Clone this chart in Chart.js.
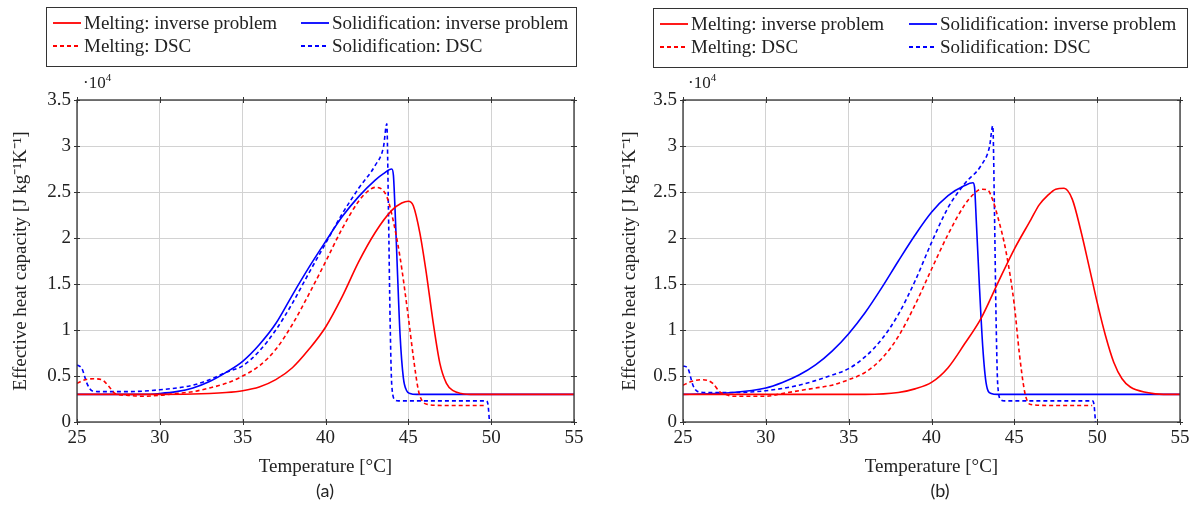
<!DOCTYPE html>
<html>
<head>
<meta charset="utf-8">
<script src="https://cdn.jsdelivr.net/npm/chart.js@4.4.1/dist/chart.umd.min.js"></script>
<style>
  html, body { margin: 0; padding: 0; background: #fff; }
  body { width: 1196px; height: 506px; position: relative; overflow: hidden; font-family: 'Liberation Serif', 'Times New Roman', serif; color: #222; }
  .panel { position: absolute; top: 0; height: 506px; }
  .legend { position: absolute; border: 1px solid #333; box-sizing: border-box; font-size: 19px; padding-top: 3px; }
  .legend .row { display: flex; height: 23px; align-items: center; white-space: nowrap; }
  .legend .item { display: flex; align-items: center; }
  .legend svg { margin-right: 3px; }
  .mult { position: absolute; font-size: 17px; }
  .mult sup { font-size: 11px; }
  .caption { position: absolute; top: 479px; font-family: Lato, 'Open Sans', sans-serif; font-size: 18px; transform: translateX(-50%); }
</style>
</head>
<body>
<div class="panel" style="left:0;width:598px"><canvas id="chartA"></canvas></div>
<div class="panel" style="left:600px;width:596px"><canvas id="chartB"></canvas></div>

<div class="legend" id="legendA" style="left:46px;top:7px;width:531px;height:60px"></div>
<div class="legend" id="legendB" style="left:653px;top:8px;width:535px;height:60px"></div>

<div class="mult" style="left:83px;top:71px">·10<sup>4</sup></div>
<div class="mult" style="left:688px;top:71px">·10<sup>4</sup></div>

<div class="caption" style="left:325px">(a)</div>
<div class="caption" style="left:940px">(b)</div>

<script>
// ---- axis ticks ----
const xTicks = [25, 30, 35, 40, 45, 50, 55];
const yTicks = [0, 0.5, 1, 1.5, 2, 2.5, 3, 3.5];
const yTickLabels = ['0', '0.5', '1', '1.5', '2', '2.5', '3', '3.5'];

const seriesNames = ['Melting: inverse problem', 'Solidification: inverse problem', 'Melting: DSC', 'Solidification: DSC'];

// ---- panel (a) : values in 10^4 J kg-1 K-1 ----
const meltInvA_T = [25, 30, 33, 34, 35, 36, 37, 38, 39, 40, 41, 42, 43, 44, 44.6, 45, 45.3, 45.7, 46.1, 46.5, 46.9, 47.3, 47.7, 48.2, 49, 55];
const meltInvA_c = [0.30, 0.30, 0.31, 0.32, 0.34, 0.38, 0.46, 0.59, 0.79, 1.03, 1.36, 1.74, 2.06, 2.30, 2.38, 2.40, 2.35, 2.05, 1.60, 1.08, 0.64, 0.42, 0.34, 0.31, 0.30, 0.30];

const meltDscA_T = [25, 25.5, 26, 26.5, 27, 27.3, 28, 29, 30, 31, 32, 33, 34, 35, 36, 37, 38, 39, 40, 41, 42, 42.5, 43, 43.4, 43.7, 44, 44.5, 45, 45.3, 45.6, 45.8, 46.2, 47, 49.7];
const meltDscA_c = [0.42, 0.46, 0.47, 0.46, 0.37, 0.31, 0.29, 0.28, 0.29, 0.31, 0.33, 0.37, 0.42, 0.50, 0.61, 0.79, 1.06, 1.39, 1.74, 2.10, 2.40, 2.50, 2.55, 2.53, 2.45, 2.26, 1.79, 1.14, 0.71, 0.35, 0.24, 0.19, 0.18, 0.18];

const solInvA_T = [25, 29, 30, 31, 32, 33, 34, 35, 36, 37, 38, 39, 40, 41, 42, 43, 43.5, 44, 44.1, 44.2, 44.35, 44.5, 44.7, 44.9, 45.1, 45.5, 55];
const solInvA_c = [0.30, 0.30, 0.31, 0.33, 0.37, 0.44, 0.54, 0.66, 0.84, 1.07, 1.38, 1.68, 1.96, 2.23, 2.45, 2.63, 2.70, 2.75, 2.68, 2.30, 1.60, 0.95, 0.48, 0.34, 0.31, 0.30, 0.30];

const solDscA_T = [25, 25.3, 25.6, 25.9, 26.5, 28, 30, 32, 33, 34, 35, 36, 37, 38, 39, 40, 41, 42, 43, 43.5, 43.7, 43.8, 43.9, 44.0, 44.2, 44.4, 49.7, 49.8, 49.9];
const solDscA_c = [0.62, 0.58, 0.42, 0.34, 0.33, 0.33, 0.35, 0.40, 0.46, 0.54, 0.61, 0.77, 1.00, 1.29, 1.62, 1.94, 2.26, 2.54, 2.79, 2.99, 3.24, 2.30, 1.10, 0.40, 0.24, 0.23, 0.23, 0.20, 0.00];

// ---- panel (b) ----
const meltInvB_T = [25, 36, 38, 39, 40, 41, 42, 43, 44, 45, 46, 46.5, 47, 47.5, 48, 48.5, 49, 49.5, 50, 50.5, 51, 51.5, 52, 53, 54, 55];
const meltInvB_c = [0.30, 0.30, 0.32, 0.36, 0.43, 0.59, 0.85, 1.13, 1.51, 1.88, 2.20, 2.36, 2.46, 2.53, 2.54, 2.42, 2.09, 1.70, 1.30, 0.94, 0.65, 0.47, 0.38, 0.32, 0.30, 0.30];

const meltDscB_T = [25, 25.5, 26.2, 26.8, 27.2, 27.6, 28, 30, 31, 32, 33, 34, 35, 36, 37, 38, 39, 40, 41, 42, 42.5, 43, 43.4, 43.7, 44, 44.5, 45, 45.3, 45.6, 45.8, 46, 47, 49.7];
const meltDscB_c = [0.40, 0.44, 0.46, 0.42, 0.33, 0.30, 0.28, 0.28, 0.31, 0.34, 0.37, 0.40, 0.46, 0.54, 0.69, 0.93, 1.27, 1.66, 2.04, 2.36, 2.47, 2.53, 2.52, 2.41, 2.23, 1.85, 1.27, 0.75, 0.35, 0.22, 0.19, 0.18, 0.18];

const solInvB_T = [25, 28, 30, 31, 32, 33, 34, 35, 36, 37, 38, 39, 40, 41, 42, 42.5, 42.6, 42.7, 42.9, 43.1, 43.3, 43.6, 44, 55];
const solInvB_c = [0.30, 0.32, 0.37, 0.43, 0.51, 0.62, 0.77, 0.96, 1.19, 1.46, 1.75, 2.03, 2.28, 2.46, 2.57, 2.60, 2.55, 2.20, 1.45, 0.80, 0.42, 0.31, 0.30, 0.30];

const solDscB_T = [25, 25.3, 25.6, 25.9, 26.5, 28, 30, 32, 33, 34, 35, 36, 37, 38, 39, 40, 41, 42, 43, 43.5, 43.7, 43.8, 43.9, 44.0, 44.2, 44.4, 49.7, 49.8, 49.9];
const solDscB_c = [0.61, 0.58, 0.40, 0.33, 0.32, 0.32, 0.34, 0.40, 0.45, 0.51, 0.58, 0.71, 0.90, 1.17, 1.53, 1.95, 2.33, 2.59, 2.79, 2.99, 3.22, 2.30, 1.10, 0.40, 0.24, 0.23, 0.23, 0.20, 0.00];

const RED = '#ff0000';
const BLUE = '#0000ff';
const DASH = [4, 3];
const serif = "'Liberation Serif', 'Times New Roman', serif";

// zip T / c arrays into {x, y} points
const toPoints = (T, c) => T.map((t, i) => ({ x: t, y: c[i] }));

function makeDataset(label, T, c, color, dashed) {
    return {
        label: label,
        data: toPoints(T, c),
        borderColor: color,
        backgroundColor: color,
        borderWidth: 1.6,
        borderDash: dashed ? DASH : [],
        pointRadius: 0,
        cubicInterpolationMode: 'monotone',
        fill: false
    };
}

// box round the plot + pgfplots style ticks crossing the frame on all sides
const frameTicks = {
    id: 'frameTicks',
    afterDatasetsDraw(chart) {
        const { ctx, chartArea: a, scales } = chart;
        ctx.save();
        ctx.strokeStyle = '#333';
        ctx.lineWidth = 1.3;
        ctx.strokeRect(a.left, a.top, a.right - a.left, a.bottom - a.top);
        ctx.lineWidth = 1;
        ctx.beginPath();
        xTicks.forEach(v => {
            const px = Math.round(scales.x.getPixelForValue(v)) + 0.5;
            ctx.moveTo(px, a.top - 3); ctx.lineTo(px, a.top + 3);
            ctx.moveTo(px, a.bottom - 3); ctx.lineTo(px, a.bottom + 3);
        });
        yTicks.forEach(v => {
            const py = Math.round(scales.y.getPixelForValue(v)) + 0.5;
            ctx.moveTo(a.left - 3, py); ctx.lineTo(a.left + 3, py);
            ctx.moveTo(a.right - 3, py); ctx.lineTo(a.right + 3, py);
        });
        ctx.stroke();
        ctx.restore();
    }
};

function makeChart(canvasId, sets, yAxisWidth, yTitlePad, rightPad) {
    const ctx = document.getElementById(canvasId).getContext('2d');
    return new Chart(ctx, {
        type: 'line',
        data: {
            datasets: [
                makeDataset(seriesNames[0], sets.meltInv[0], sets.meltInv[1], RED, false),
                makeDataset(seriesNames[2], sets.meltDsc[0], sets.meltDsc[1], RED, true),
                makeDataset(seriesNames[1], sets.solInv[0], sets.solInv[1], BLUE, false),
                makeDataset(seriesNames[3], sets.solDsc[0], sets.solDsc[1], BLUE, true)
            ]
        },
        options: {
            responsive: true,
            maintainAspectRatio: false,
            animation: false,
            layout: { padding: { left: 0, right: rightPad, top: 100, bottom: 28 } },
            scales: {
                x: {
                    type: 'linear',
                    min: 25,
                    max: 55,
                    afterBuildTicks: s => { s.ticks = xTicks.map(v => ({ value: v })); },
                    afterFit: s => { s.height = 56; },
                    ticks: { font: { family: serif, size: 19 }, color: '#222', padding: 5, maxRotation: 0 },
                    grid: { color: '#d2d2d2', lineWidth: 1, drawTicks: false },
                    border: { display: false },
                    title: {
                        display: true,
                        text: 'Temperature [°C]',
                        font: { family: serif, size: 19 },
                        color: '#222',
                        padding: { top: 0, bottom: 0 }
                    }
                },
                y: {
                    min: 0,
                    max: 3.5,
                    afterBuildTicks: s => { s.ticks = yTicks.map(v => ({ value: v })); },
                    afterFit: s => { s.width = yAxisWidth; },
                    ticks: {
                        font: { family: serif, size: 19 },
                        color: '#222',
                        padding: 6,
                        callback: (v, i) => yTickLabels[i]
                    },
                    grid: { color: '#d2d2d2', lineWidth: 1, drawTicks: false },
                    border: { display: false },
                    title: {
                        display: true,
                        text: 'Effective heat capacity [J kg⁻¹K⁻¹]',
                        font: { family: serif, size: 19 },
                        color: '#222',
                        padding: { top: yTitlePad, bottom: 0 }
                    }
                }
            },
            plugins: {
                legend: { display: false },
                tooltip: { enabled: false }
            }
        },
        plugins: [frameTicks]
    });
}

// Legend drawn in HTML: two columns, solid row on top, DSC row below
function buildLegend(id, col2Offset) {
    const el = document.getElementById(id);
    const sample = (color, dashed) =>
        `<svg width="28" height="6"><line x1="0" y1="3" x2="28" y2="3" stroke="${color}" stroke-width="1.8"${dashed ? ' stroke-dasharray="4,3"' : ''}/></svg>`;
    const rows = [
        [[RED, false, seriesNames[0]], [BLUE, false, seriesNames[1]]],
        [[RED, true, seriesNames[2]], [BLUE, true, seriesNames[3]]]
    ];
    el.innerHTML = rows.map(r =>
        `<div class="row">` +
        `<div class="item" style="margin-left:6px;width:${col2Offset - 6}px">${sample(r[0][0], r[0][1])}<span>${r[0][2]}</span></div>` +
        `<div class="item">${sample(r[1][0], r[1][1])}<span>${r[1][2]}</span></div>` +
        `</div>`
    ).join('');
}

buildLegend('legendA', 254);
buildLegend('legendB', 255);

const myChartA = makeChart('chartA', {
    meltInv: [meltInvA_T, meltInvA_c],
    meltDsc: [meltDscA_T, meltDscA_c],
    solInv: [solInvA_T, solInvA_c],
    solDsc: [solDscA_T, solDscA_c]
}, 77, 10, 24);

const myChartB = makeChart('chartB', {
    meltInv: [meltInvB_T, meltInvB_c],
    meltDsc: [meltDscB_T, meltDscB_c],
    solInv: [solInvB_T, solInvB_c],
    solDsc: [solDscB_T, solDscB_c]
}, 83, 19, 16);
</script>
</body>
</html>
